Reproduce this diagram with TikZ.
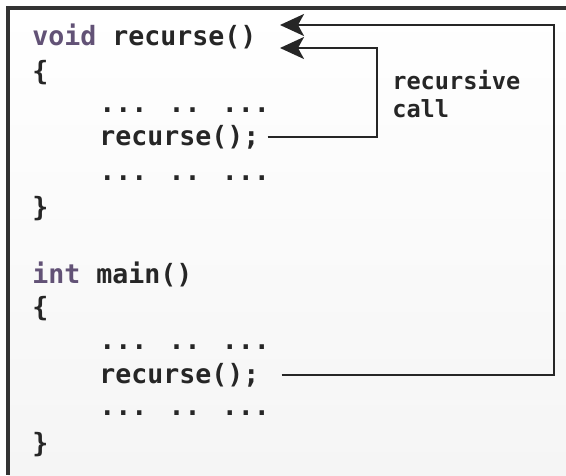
\documentclass[tikz,border=0pt]{standalone}
\usepackage{fontspec}
\usetikzlibrary{arrows.meta,positioning}
\newfontfamily\codefont{DejaVu Sans Mono}
\definecolor{codeink}{RGB}{38,38,38}
\definecolor{keyword}{RGB}{98,82,118}
\definecolor{paper}{RGB}{245,245,245}

\begin{document}
\begin{tikzpicture}[x=0.025cm,y=-0.025cm,>={Stealth[length=6mm,width=5.5mm,inset=1.5mm]}]
  \tikzstyle{code}=[anchor=base west,inner sep=0pt,text=codeink,font=\codefont\bfseries\fontsize{18.9}{22}\selectfont]
  \tikzstyle{note}=[anchor=west,inner sep=0pt,align=left,text=codeink,font=\codefont\bfseries\fontsize{16.8}{19.9}\selectfont]
  \tikzstyle{flow}=[->,line width=1.5pt,color=codeink]
  \tikzstyle{frame}=[line width=2.2pt,draw=black!80]

  \useasboundingbox (0,0) rectangle (566,475);
  \shade [top color=white,bottom color=paper] (8,8) rectangle (566,475);
  \draw [frame] (566,8) -- (8,8) -- (8,475);

  % recurse()
  \node [code] (head)  at (32,45)  {\textcolor{keyword}{void} recurse()};
  \node [code] (open1) at (32,80)  {\{};
  \node [code] (dotsA) at (99,112) {... .. ...};
  \node [code] (callA) at (99,145) {recurse();};
  \node [code] (dotsB) at (99,180) {... .. ...};
  \node [code] (shut1) at (32,216) {\}};

  % main()
  \node [code] (mainhead) at (32,283) {\textcolor{keyword}{int} main()};
  \node [code] (open2) at (32,316) {\{};
  \node [code] (dotsC) at (99,349) {... .. ...};
  \node [code] (callB) at (99,383) {recurse();};
  \node [code] (dotsD) at (99,415) {... .. ...};
  \node [code] (shut2) at (32,452) {\}};

  \node [note] (label) at (392,94) {recursive\\call};

  \coordinate (tipA)  at (280,48);
  \coordinate (tipB)  at (280,25);
  \coordinate (turnA) at (377,48);
  \coordinate (turnB) at (554,25);

  \draw [flow] ([xshift=2mm]callA.east) -| (turnA) -- (tipA);
  \draw [flow] ([xshift=5.5mm]callB.east) -| (turnB) -- (tipB);
\end{tikzpicture}
\end{document}
